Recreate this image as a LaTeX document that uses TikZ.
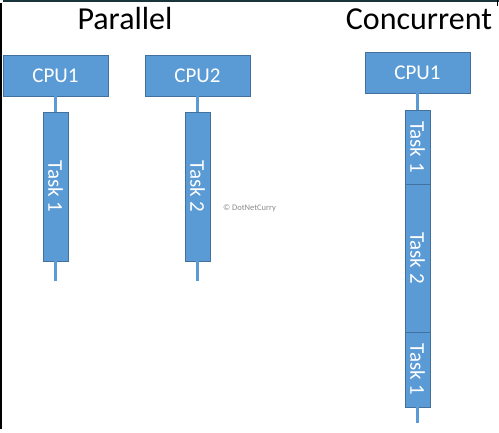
\documentclass[tikz,border=0pt]{standalone}
\usepackage{fontspec}
\setmainfont{Carlito}
\definecolor{boxblue}{HTML}{5B9BD5}
\definecolor{boxedge}{HTML}{41719C}
\definecolor{frameteal}{HTML}{17343B}
\begin{document}
\begin{tikzpicture}[x=1pt,y=-1pt,
  cpubox/.style={draw=boxedge, fill=boxblue, line width=0.8pt, minimum width=105pt, minimum height=41pt, inner sep=0pt, text=white, font=\fontsize{21}{21}\selectfont},
  taskbox/.style={draw=boxedge, fill=boxblue, line width=0.8pt, minimum width=25pt, inner sep=0pt, text=white, font=\fontsize{21}{21}\selectfont},
  link/.style={draw=boxblue, line width=2.6pt},
  titletext/.style={font=\fontsize{32}{32}\selectfont, text=black},
  wmtext/.style={font=\fontsize{8.5}{8.5}\selectfont, text=black!45}]
\fill[white] (0,0) rectangle (499,432);
\useasboundingbox (0,0) rectangle (499,432);
% frame
\draw[frameteal, line width=1.6pt] (3,0.8) -- (499,0.8);
\draw[black, line width=2pt] (1,3) -- (1,429);
\draw[black, line width=1pt] (497.5,0) -- (497.5,6);
% titles
\node[titletext] (tpar) at (125,19) {Parallel};
\node[titletext] (tcon) at (419,19) {Concurrent};
% parallel
\node[cpubox] (cpuA) at (55.5,75.5) {CPU1};
\node[cpubox] (cpuB) at (197.5,75.5) {CPU2};
\node[taskbox, minimum height=149pt] (tA) at (55.5,186.5) {\rotatebox{-90}{Task 1}};
\node[taskbox, minimum height=149pt] (tB) at (197.5,186.5) {\rotatebox{-90}{Task 2}};
\coordinate (eA) at (55.5,281);
\coordinate (eB) at (197.5,281);
\draw[link] (cpuA.south) -- (tA.north);
\draw[link] (tA.south) -- (eA);
\draw[link] (cpuB.south) -- (tB.north);
\draw[link] (tB.south) -- (eB);
% concurrent
\node[cpubox] (cpuC) at (417.5,72.5) {CPU1};
\node[taskbox, minimum height=74pt] (c1) at (417.5,147) {\rotatebox{-90}{Task 1}};
\node[taskbox, minimum height=148pt] (c2) at (417.5,258) {\rotatebox{-90}{Task 2}};
\node[taskbox, minimum height=75pt] (c3) at (417.5,369.5) {\rotatebox{-90}{Task 1}};
\coordinate (eC) at (417.5,423);
\draw[link] (cpuC.south) -- (c1.north);
\draw[link] (c3.south) -- (eC);
% watermark
\node[wmtext] (wm) at (249.5,208) {\textcopyright\ DotNetCurry};
\end{tikzpicture}
\end{document}
